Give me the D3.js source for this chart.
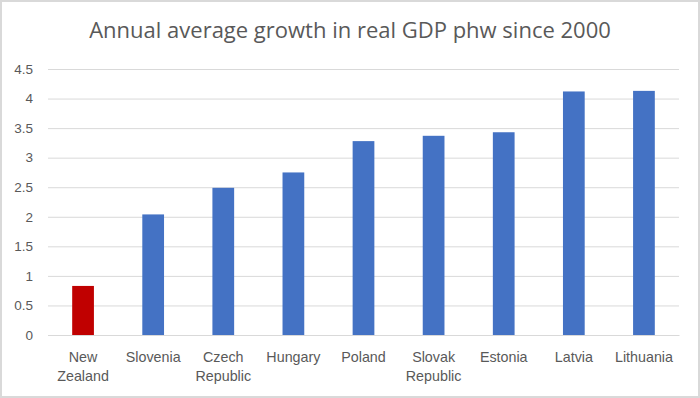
<!DOCTYPE html>
<html>
<head>
<meta charset="utf-8">
<script src="https://cdn.jsdelivr.net/npm/d3@7"></script>
<style>
  html, body { margin: 0; padding: 0; background: #fff; }
  svg { display: block; font-family: "Open Sans", "Noto Sans", sans-serif; }
</style>
</head>
<body>
<svg id="svg" width="700" height="398"></svg>
<script>
// chart data
const countries = ["New Zealand", "Slovenia", "Czech Republic", "Hungary", "Poland",
  "Slovak Republic", "Estonia", "Latvia", "Lithuania"];
const growth = [0.83, 2.04, 2.49, 2.75, 3.28, 3.37, 3.43, 4.12, 4.13];
const yTicks = [0, 0.5, 1, 1.5, 2, 2.5, 3, 3.5, 4, 4.5];
const title = "Annual average growth in real GDP phw since 2000";

const W = 700, H = 398;
const margin = { top: 69, right: 21, bottom: 63, left: 48 };
const svg = d3.select("#svg");

// outer frame
svg.append("rect")
  .attr("x", 1).attr("y", 1)
  .attr("width", W - 2).attr("height", H - 2)
  .attr("fill", "#fff").attr("stroke", "#d9d9d9").attr("stroke-width", 2);

const x = d3.scaleBand()
  .domain(countries)
  .range([margin.left, W - margin.right])
  .paddingInner(0.69).paddingOuter(0.345);

const y = d3.scaleLinear()
  .domain([0, 4.5])
  .range([H - margin.bottom, margin.top]);

// gridlines + y labels
const yAxis = d3.axisLeft(y)
  .tickValues(yTicks)
  .tickSize(-(W - margin.left - margin.right))
  .tickPadding(15)
  .tickFormat(d => d);

svg.append("g")
  .attr("transform", `translate(${margin.left},0)`)
  .call(yAxis)
  .call(g => g.select(".domain").remove())
  .call(g => g.selectAll(".tick line").attr("stroke", "#d9d9d9"))
  .call(g => g.selectAll(".tick text")
    .attr("fill", "#595959").attr("font-size", 13.5));

// bars
svg.append("g").selectAll("rect")
  .data(countries)
  .join("rect")
  .attr("x", d => x(d))
  .attr("width", x.bandwidth())
  .attr("y", (d, i) => y(growth[i]))
  .attr("height", (d, i) => y(0) - y(growth[i]))
  .attr("fill", (d, i) => i === 0 ? "#c00000" : "#4472c4");

// x labels, wrapped on two lines
const xAxis = svg.append("g")
  .attr("transform", `translate(0,${y(0)})`)
  .call(d3.axisBottom(x).tickSize(0).tickFormat(""))
  .call(g => g.select(".domain").attr("stroke", "#d9d9d9"));

xAxis.selectAll(".tick").each(function(d) {
  const words = d.split(" ");
  const t = d3.select(this).append("text")
    .attr("fill", "#595959").attr("font-size", 14.3)
    .attr("text-anchor", "middle");
  words.forEach((w, k) => {
    t.append("tspan").attr("x", 0).attr("y", 27 + k * 19).text(w);
  });
});

// title
svg.append("text")
  .attr("x", W / 2).attr("y", 38)
  .attr("text-anchor", "middle")
  .attr("fill", "#595959")
  .attr("font-size", 22)
  .text(title);
</script>
</body>
</html>
